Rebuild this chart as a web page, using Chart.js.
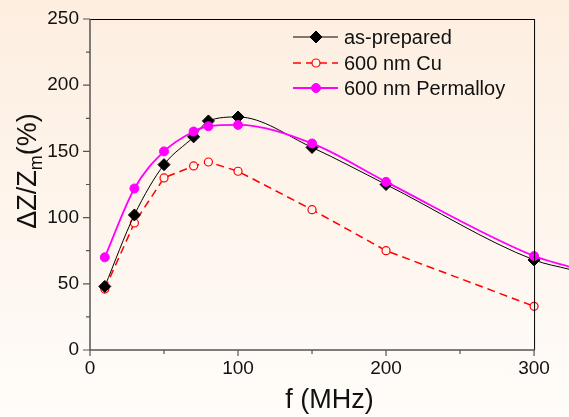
<!DOCTYPE html>
<html><head><meta charset="utf-8">
<script src="https://cdn.jsdelivr.net/npm/chart.js@4"></script>
<style>
html,body{margin:0;padding:0;width:569px;height:417px;overflow:hidden;background:linear-gradient(#fdeee0,#fffcf9);}
canvas{display:block}
</style></head><body>
<canvas id="c" width="569" height="417"></canvas>
<script>
const freq = [10, 30, 50, 70, 80, 100, 150, 200, 300];
const asPrepared = [48, 102, 140, 161, 173, 176, 153, 125, 68];
const cu600 = [46, 96, 130, 139, 142, 135, 106, 75, 33];
const permalloy600 = [70, 122, 150, 165, 169, 170, 156, 127, 71];
// the fitted curves run on past the last point to the cropped right edge
const curveEndFreq = 323.6;
const asPreparedEnd = 61;
const permalloyEnd = 63;
const xTicks = [0, 100, 200, 300];
const xMinor = [50, 150, 250];
const yTicks = [0, 50, 100, 150, 200, 250];
const yMinor = [25, 75, 125, 175, 225];
const seriesNames = ['as-prepared', '600 nm Cu', '600 nm Permalloy'];
const xTitle = 'f (MHz)';

const FONT = "'Liberation Sans', Arial, sans-serif";
const BG = '#fff8f0';

function pts(ys, endY) {
  const p = freq.map((x, i) => ({x, y: ys[i]}));
  if (endY !== undefined) p.push({x: curveEndFreq, y: endY});
  return p;
}
const markerR = r => ctx => ctx.dataIndex < freq.length ? r : 0;

const framePlugin = {
  id: 'frame',
  afterDatasetsDraw(chart) {
    const c = chart.ctx, xs = chart.scales.x, ys = chart.scales.y;
    const x0 = xs.getPixelForValue(0), x1 = xs.getPixelForValue(300);
    const y0 = ys.getPixelForValue(0), y1 = ys.getPixelForValue(250);
    c.save();
    c.lineCap = 'butt';
    c.strokeStyle = '#000'; c.lineWidth = 1;
    c.beginPath();
    c.moveTo(x0, y1 + 0.5); c.lineTo(x1, y1 + 0.5);
    c.moveTo(x1 + 0.5, y1); c.lineTo(x1 + 0.5, y0);
    c.stroke();
    c.strokeStyle = '#555'; c.lineWidth = 1.5;
    c.beginPath();
    c.moveTo(x0, y1); c.lineTo(x0, y0);
    c.moveTo(x0, y0); c.lineTo(x1 + 1, y0);
    c.stroke();
    c.lineWidth = 1.2;
    c.beginPath();
    yTicks.forEach(v => { const y = ys.getPixelForValue(v); c.moveTo(x0 - 7, y); c.lineTo(x0, y); });
    yMinor.forEach(v => { const y = ys.getPixelForValue(v); c.moveTo(x0 - 4, y); c.lineTo(x0, y); });
    xTicks.forEach(v => { const x = xs.getPixelForValue(v); c.moveTo(x, y0); c.lineTo(x, y0 + 6); });
    xMinor.forEach(v => { const x = xs.getPixelForValue(v); c.moveTo(x, y0); c.lineTo(x, y0 + 4); });
    c.stroke();
    c.restore();
  },
  afterDraw(chart) {
    const c = chart.ctx;
    c.save();
    c.translate(29, 171);
    c.rotate(-Math.PI / 2);
    c.fillStyle = '#111';
    c.textBaseline = 'middle';
    const big = '27px ' + FONT, small = '18px ' + FONT;
    const parts = [['\u0394Z/Z', big, 0], ['m', small, 8], ['(%)', big, 0]];
    let w = 0;
    parts.forEach(p => { c.font = p[1]; w += c.measureText(p[0]).width; });
    let x = -w / 2;
    parts.forEach(p => { c.font = p[1]; c.fillText(p[0], x, p[2]); x += c.measureText(p[0]).width; });
    c.restore();

    c.save();
    const rows = [37, 63, 88];
    chart.data.datasets.slice().sort((a, b) => a.legendIndex - b.legendIndex).forEach((ds, i) => {
      const y = rows[i];
      c.strokeStyle = ds.borderColor; c.lineWidth = ds.borderWidth;
      c.setLineDash(ds.borderDash || []);
      c.beginPath(); c.moveTo(293, y); c.lineTo(338, y); c.stroke();
      c.setLineDash([]);
      const mx = 316;
      c.fillStyle = ds.pointBackgroundColor; c.strokeStyle = ds.borderColor;
      c.lineWidth = ds.pointBorderWidth || 1;
      c.beginPath();
      if (ds.pointStyle === 'rectRot') {
        const r = 6;
        c.moveTo(mx, y - r); c.lineTo(mx + r, y); c.lineTo(mx, y + r); c.lineTo(mx - r, y); c.closePath();
      } else {
        c.arc(mx, y, ds.legendR, 0, Math.PI * 2);
      }
      c.fill(); c.stroke();
      c.fillStyle = '#111'; c.font = '20px ' + FONT; c.textBaseline = 'middle';
      c.fillText(ds.label, 344, y + 1);
    });
    c.restore();
  }
};

new Chart(document.getElementById('c'), {
  type: 'line',
  data: {
    datasets: [
      {
        label: seriesNames[2], legendIndex: 2, order: 0,
        data: pts(permalloy600, permalloyEnd),
        borderColor: '#ff00ff', backgroundColor: '#ff00ff', pointBackgroundColor: '#ff00ff',
        borderWidth: 1.8, pointStyle: 'circle', pointRadius: markerR(4.5), legendR: 4.5,
        pointBorderWidth: 1, cubicInterpolationMode: 'monotone', fill: false
      },
      {
        label: seriesNames[0], legendIndex: 0, order: 1,
        data: pts(asPrepared, asPreparedEnd),
        borderColor: '#000', backgroundColor: '#000', pointBackgroundColor: '#000',
        borderWidth: 1, pointStyle: 'rectRot', pointRadius: markerR(6),
        pointBorderWidth: 1, cubicInterpolationMode: 'monotone', fill: false
      },
      {
        label: seriesNames[1], legendIndex: 1, order: 2,
        data: pts(cu600),
        borderColor: '#ff0000', backgroundColor: BG, pointBackgroundColor: BG,
        borderWidth: 1.5, borderDash: [8, 5], pointStyle: 'circle', pointRadius: 4, legendR: 4,
        pointBorderWidth: 1.2, tension: 0, fill: false
      }
    ]
  },
  options: {
    responsive: false,
    animation: false,
    layout: {autoPadding: false, padding: {top: 19, right: 0, left: 0, bottom: 0}},
    plugins: {legend: {display: false}, tooltip: {enabled: false}},
    scales: {
      x: {
        type: 'linear', min: 0, max: curveEndFreq,
        afterBuildTicks: s => { s.ticks = xTicks.map(v => ({value: v})); },
        afterFit: s => { s.height = 67; s.paddingLeft = 0; s.paddingRight = 0; },
        border: {display: false},
        grid: {display: true, drawOnChartArea: false, drawTicks: true, tickLength: 7, color: 'rgba(0,0,0,0)'},
        ticks: {font: {size: 19, family: FONT}, color: '#111', padding: 0, maxRotation: 0, autoSkip: false},
        title: {display: true, text: xTitle, font: {size: 27, family: FONT}, color: '#111', padding: {top: 0, bottom: 0}}
      },
      y: {
        type: 'linear', min: 0, max: 250,
        afterBuildTicks: s => { s.ticks = yTicks.map(v => ({value: v})); },
        afterFit: s => { s.width = 90; s.paddingTop = 0; s.paddingBottom = 0; },
        border: {display: false},
        grid: {display: true, drawOnChartArea: false, drawTicks: true, tickLength: 7, color: 'rgba(0,0,0,0)'},
        ticks: {font: {size: 19, family: FONT}, color: '#111', padding: 4, autoSkip: false}
      }
    }
  },
  plugins: [framePlugin]
});
</script>
</body></html>
